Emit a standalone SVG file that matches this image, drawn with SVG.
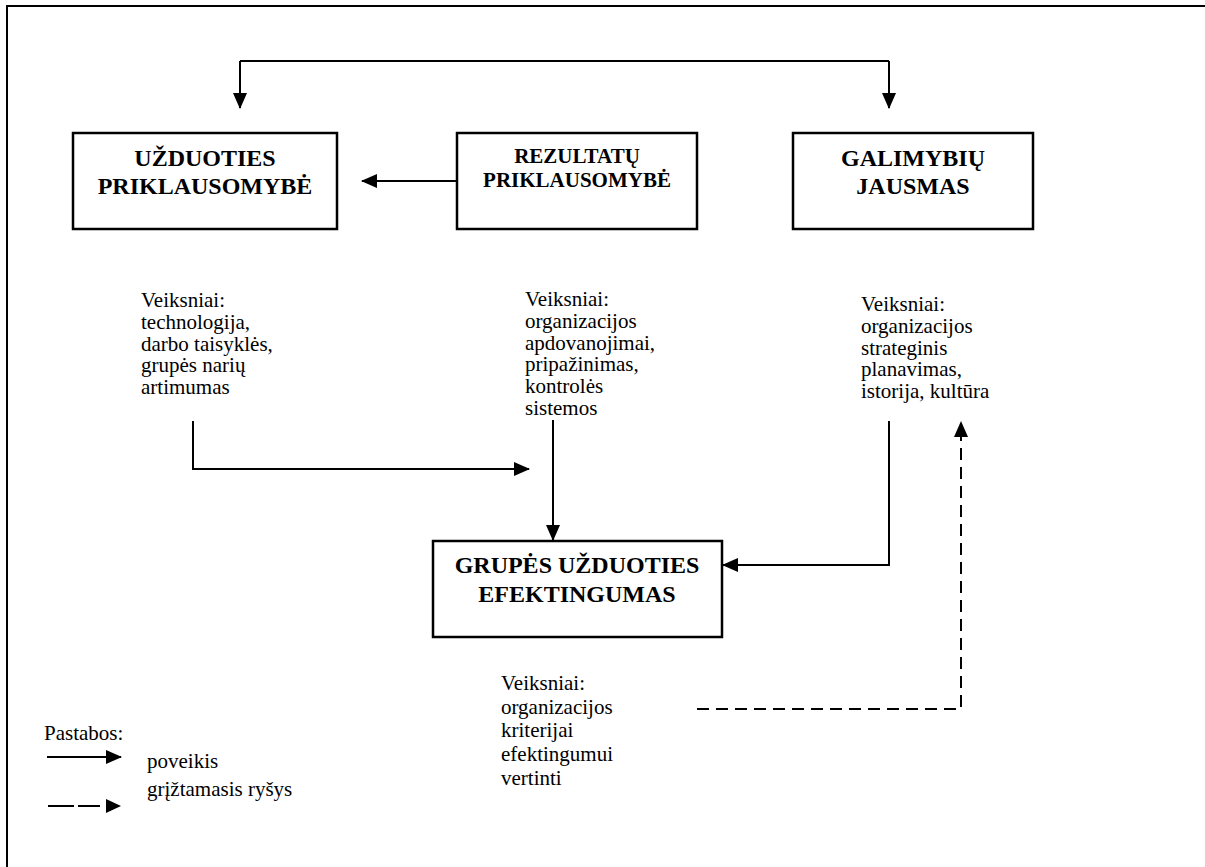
<svg xmlns="http://www.w3.org/2000/svg" width="1205" height="867" viewBox="0 0 1205 867">
<style>
text{font-family:'Liberation Serif','Times New Roman',Times,'DejaVu Serif',serif;fill:#000}
.frame{fill:none;stroke:#000;stroke-width:2}
.box{fill:#fff;stroke:#000;stroke-width:2.5}
.title{font-weight:bold;font-size:24px;text-anchor:middle}
.sm{font-size:21px}
.note{font-size:21px}
.conn{fill:none;stroke:#000;stroke-width:2}
.dash{stroke-dasharray:12 7}
</style>
<defs>
<marker id="ah" viewBox="0 0 16 14" refX="15" refY="7" markerWidth="16" markerHeight="14" markerUnits="userSpaceOnUse" orient="auto">
<path d="M0,0 L16,7 L0,14 z" fill="#000"/>
</marker>
</defs>
<rect width="1205" height="867" fill="#fff"/>
<path class="frame" d="M7,867 V6 H1205"/>

<g id="connectors">
<path class="conn" d="M240,61 H889"/>
<path class="conn" d="M240,61 V108" marker-end="url(#ah)"/>
<path class="conn" d="M889,61 V108" marker-end="url(#ah)"/>
<path class="conn" d="M457,181 H362" marker-end="url(#ah)"/>
<path class="conn" d="M193,421 V469 H529" marker-end="url(#ah)"/>
<path class="conn" d="M553,420 V540" marker-end="url(#ah)"/>
<path class="conn" d="M889,421 V565 H723" marker-end="url(#ah)"/>
<path class="conn dash" d="M697,709 H961 V422" marker-end="url(#ah)"/>
</g>

<g id="node-uzduoties">
<rect class="box" x="73" y="133" width="264" height="96"/>
<text class="title" x="205" y="166">UŽDUOTIES</text>
<text class="title" x="205" y="194">PRIKLAUSOMYBĖ</text>
</g>
<g id="node-rezultatu">
<rect class="box" x="457" y="133" width="240" height="96"/>
<text class="title sm" x="577" y="163">REZULTATŲ</text>
<text class="title sm" x="577" y="187">PRIKLAUSOMYBĖ</text>
</g>
<g id="node-galimybiu">
<rect class="box" x="793" y="133" width="240" height="96"/>
<text class="title" x="913" y="166">GALIMYBIŲ</text>
<text class="title" x="913" y="194">JAUSMAS</text>
</g>
<g id="node-efektingumas">
<rect class="box" x="433" y="541" width="289" height="96"/>
<text class="title" x="577" y="573">GRUPĖS UŽDUOTIES</text>
<text class="title" x="577" y="602">EFEKTINGUMAS</text>
</g>

<g id="factors-left">
<text class="note" x="141" y="307">Veiksniai:</text>
<text class="note" x="141" y="328.8">technologija,</text>
<text class="note" x="141" y="350.6">darbo taisyklės,</text>
<text class="note" x="141" y="372.4">grupės narių</text>
<text class="note" x="141" y="394.2">artimumas</text>
</g>
<g id="factors-middle">
<text class="note" x="525" y="306">Veiksniai:</text>
<text class="note" x="525" y="327.8">organizacijos</text>
<text class="note" x="525" y="349.6">apdovanojimai,</text>
<text class="note" x="525" y="371.4">pripažinimas,</text>
<text class="note" x="525" y="393.2">kontrolės</text>
<text class="note" x="525" y="415">sistemos</text>
</g>
<g id="factors-right">
<text class="note" x="861" y="311">Veiksniai:</text>
<text class="note" x="861" y="332.8">organizacijos</text>
<text class="note" x="861" y="354.6">strateginis</text>
<text class="note" x="861" y="376.4">planavimas,</text>
<text class="note" x="861" y="398.2">istorija, kultūra</text>
</g>
<g id="factors-bottom">
<text class="note" x="501" y="690">Veiksniai:</text>
<text class="note" x="501" y="713.5">organizacijos</text>
<text class="note" x="501" y="737">kriterijai</text>
<text class="note" x="501" y="761">efektingumui</text>
<text class="note" x="501" y="785">vertinti</text>
</g>

<g id="legend">
<text class="note" x="44" y="740">Pastabos:</text>
<path class="conn" d="M47,757 H121" marker-end="url(#ah)"/>
<text class="note" x="147" y="768">poveikis</text>
<text class="note" x="147" y="796">grįžtamasis ryšys</text>
<path class="conn" d="M48,806 H74 M78,806 H100"/>
<path d="M106,799 L121,806 L106,813 z" fill="#000"/>
</g>
</svg>
